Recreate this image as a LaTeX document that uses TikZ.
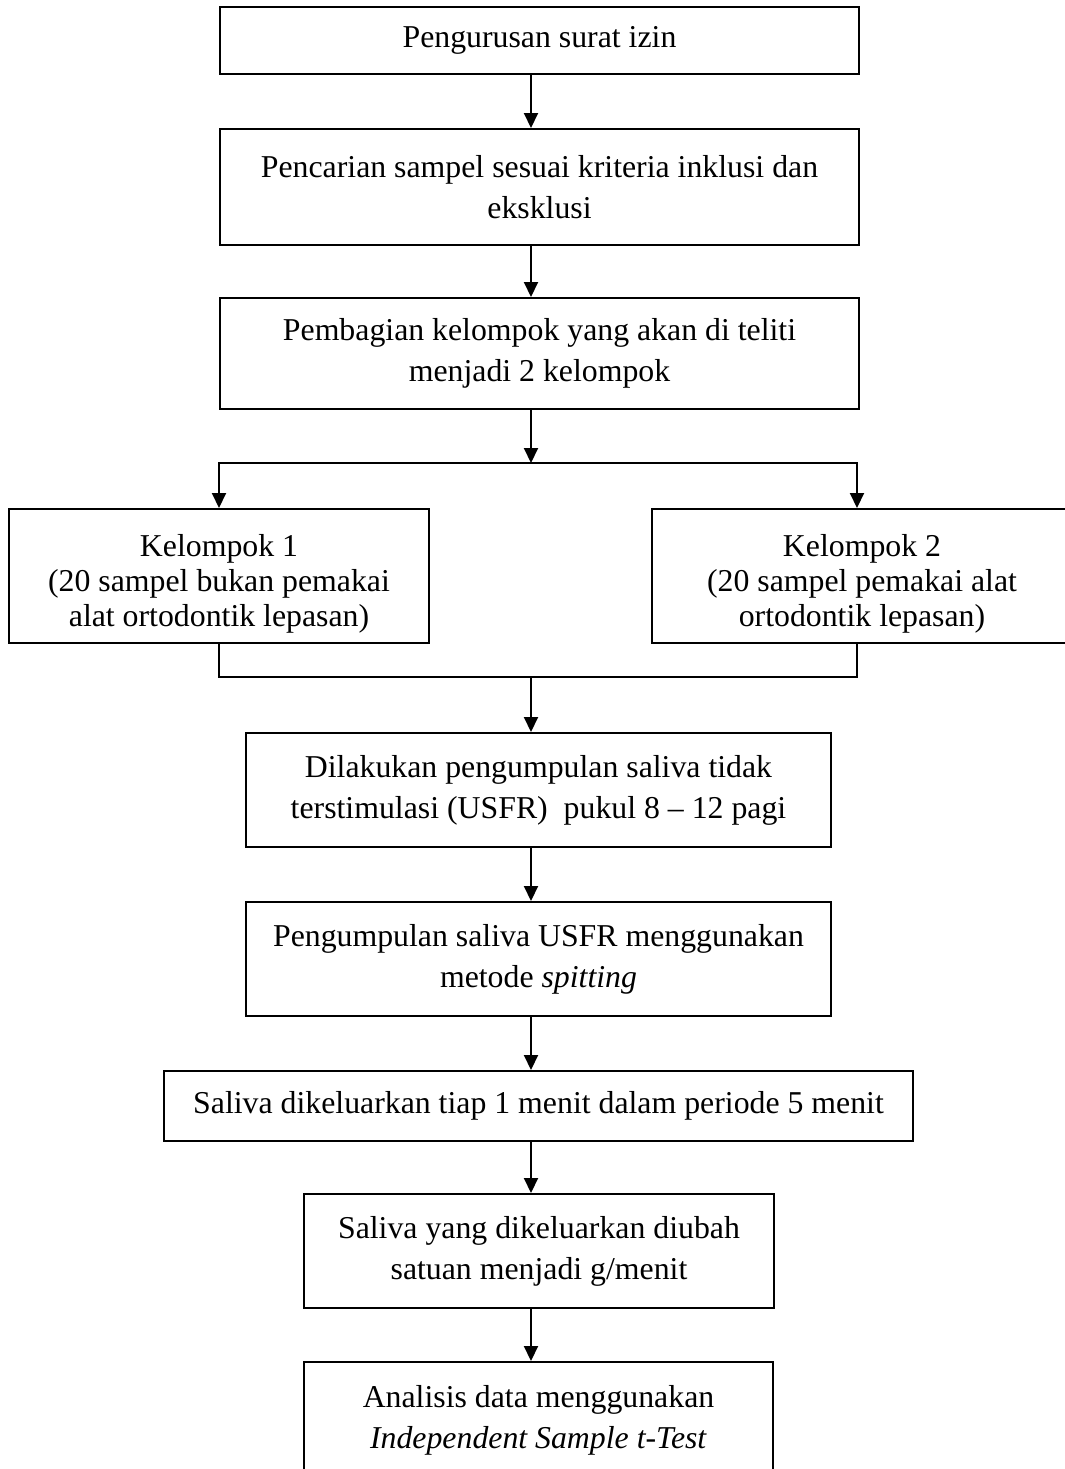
\documentclass[tikz,border=0pt]{standalone}
\usepackage{fontspec}
\setmainfont{Liberation Serif}
\usetikzlibrary{arrows.meta}
\newcommand\flowfont{\fontsize{15.9pt}{20.5pt}\selectfont}
\newcommand\kelfont{\fontsize{15.9pt}{17.5pt}\selectfont}
\begin{document}
\begin{tikzpicture}[x=0.5pt,y=-0.5pt,
  box/.style={draw,line width=1pt,inner sep=0pt,align=center,font=\flowfont},
  link/.style={line width=1pt},
  arr/.style={link,-{Triangle[length=7.5pt,width=7pt]}}]
\useasboundingbox (0,0) rectangle (1065,1469);
\clip (0,0) rectangle (1065,1469);
\fill[white] (0,0) rectangle (1065,1469);
\coordinate (ax) at (531,0);
\node[box,minimum width=319.5pt,minimum height=33.5pt] (b1) at (539.5,40.5) {Pengurusan surat izin};
\node[box,minimum width=319.5pt,minimum height=58pt] (b2) at (539.5,187) {Pencarian sampel sesuai kriteria inklusi dan\\eksklusi};
\node[box,minimum width=319.5pt,minimum height=55.5pt] (b3) at (539.5,353.5) {Pembagian kelompok yang akan di teliti\\menjadi 2 kelompok};
\coordinate (split) at (531,463);
\coordinate (join) at (531,677);
\coordinate (k2x) at (857,0);
\node[box,font=\kelfont,minimum width=210pt,minimum height=67pt] (k1) at (219,576) {\rule{0pt}{19pt}Kelompok 1\\(20 sampel bukan pemakai\\alat ortodontik lepasan)};
\node[box,font=\kelfont,minimum width=210pt,minimum height=67pt] (k2) at (862,576) {\rule{0pt}{19pt}Kelompok 2\\(20 sampel pemakai alat\\ortodontik lepasan)};
\node[box,minimum width=292.5pt,minimum height=57pt] (d) at (538.5,790) {Dilakukan pengumpulan saliva tidak\\terstimulasi (USFR)~ pukul 8 -- 12 pagi};
\node[box,minimum width=292.5pt,minimum height=57pt] (p) at (538.5,959) {Pengumpulan saliva USFR menggunakan\\metode \textit{spitting}};
\node[box,minimum width=374.5pt,minimum height=35pt] (s) at (538.5,1106) {Saliva dikeluarkan tiap 1 menit dalam periode 5 menit};
\node[box,minimum width=235pt,minimum height=57pt] (sy) at (539,1251) {Saliva yang dikeluarkan diubah\\satuan menjadi g/menit};
\node[box,minimum width=234.5pt,minimum height=58pt] (an) at (538.5,1420) {Analisis data menggunakan\\\textit{Independent Sample t-Test}};
\draw[arr] (b1.south -| ax) -- (b2.north -| ax);
\draw[arr] (b2.south -| ax) -- (b3.north -| ax);
\draw[arr] (b3.south -| ax) -- (split);
\draw[arr] (split) -| (k1.north);
\draw[arr] (split) -| (k2.north -| k2x);
\draw[link] (k1.south) |- (join) -| (k2.south -| k2x);
\draw[arr] (join) -- (d.north -| ax);
\draw[arr] (d.south -| ax) -- (p.north -| ax);
\draw[arr] (p.south -| ax) -- (s.north -| ax);
\draw[arr] (s.south -| ax) -- (sy.north -| ax);
\draw[arr] (sy.south -| ax) -- (an.north -| ax);
\end{tikzpicture}
\end{document}
